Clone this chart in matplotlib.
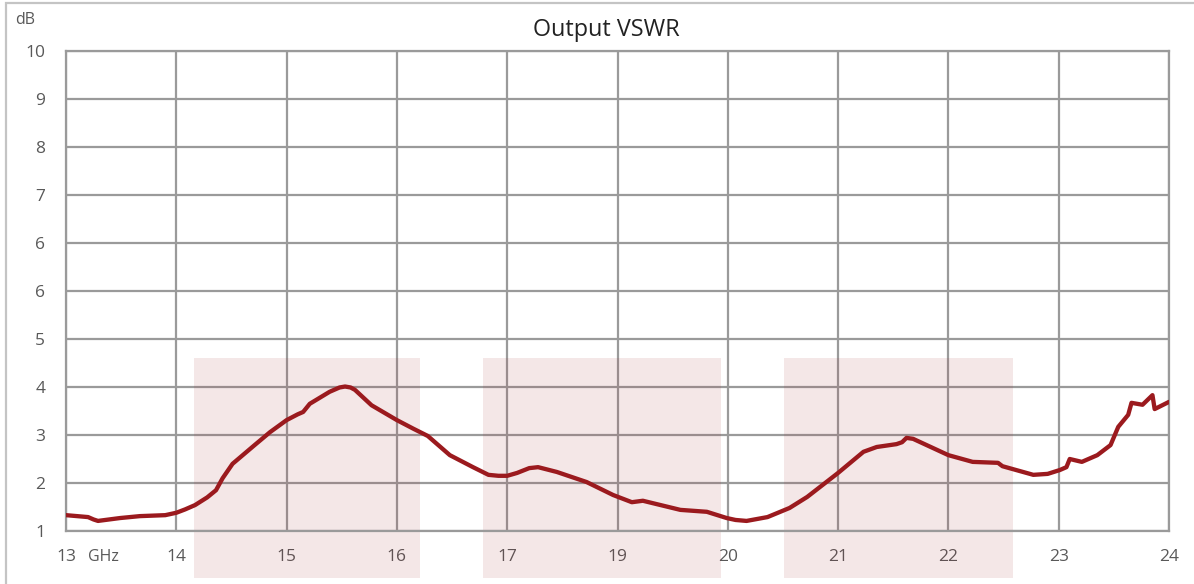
import matplotlib.pyplot as plt
from matplotlib.patches import Rectangle

# frequency axis is positional: 11 gridlines, label "18" is absent in the original
freq_labels = ['13', '14', '15', '16', '17', '19', '20', '21', '22', '23', '24']
db_labels = ['1', '2', '3', '4', '5', '6', '6', '7', '8', '9', '10']

# curve (x = gridline position 0..10, y = dB scale)
pos = [0.00, 0.20, 0.25, 0.29, 0.49, 0.67, 0.90, 1.00, 1.08, 1.17, 1.28, 1.36,
       1.42, 1.51, 1.71, 1.85, 2.00, 2.10, 2.15, 2.21, 2.39, 2.48, 2.53, 2.58,
       2.62, 2.77, 3.00, 3.15, 3.28, 3.48, 3.69, 3.83, 3.92, 4.00, 4.09, 4.20,
       4.28, 4.45, 4.72, 4.96, 5.13, 5.23, 5.57, 5.81, 5.99, 6.07, 6.17, 6.36,
       6.56, 6.72, 7.00, 7.23, 7.35, 7.53, 7.58, 7.62, 7.68, 8.00, 8.22, 8.45,
       8.49, 8.77, 8.90, 9.01, 9.07, 9.10, 9.21, 9.35, 9.47, 9.54, 9.63, 9.66,
       9.76, 9.85, 9.87, 10.00]
vswr = [1.33, 1.29, 1.24, 1.21, 1.27, 1.31, 1.33, 1.38, 1.45, 1.54, 1.70, 1.85,
        2.10, 2.40, 2.79, 3.06, 3.31, 3.43, 3.48, 3.65, 3.90, 3.99, 4.01, 3.99,
        3.94, 3.62, 3.31, 3.13, 2.98, 2.58, 2.33, 2.17, 2.15, 2.15, 2.21, 2.31,
        2.33, 2.23, 2.02, 1.75, 1.60, 1.63, 1.44, 1.40, 1.27, 1.23, 1.21, 1.29,
        1.48, 1.71, 2.21, 2.65, 2.75, 2.81, 2.85, 2.94, 2.92, 2.58, 2.44, 2.42,
        2.35, 2.17, 2.19, 2.27, 2.33, 2.50, 2.44, 2.58, 2.79, 3.17, 3.42, 3.67,
        3.63, 3.83, 3.54, 3.69]

# shaded bands (start, end) in gridline positions, and their top level
band_start = [1.16, 3.78, 6.51]
band_end = [3.21, 5.94, 8.59]
band_top = 4.6

plt.rcParams['font.family'] = ['Open Sans', 'DejaVu Sans']
grey = '#9a9a9a'
text_grey = '#595959'

fig = plt.figure(figsize=(11.94, 5.84), dpi=100)
ax = fig.add_axes([66 / 1194, 53 / 584, 1103 / 1194, 480 / 584])

ax.set_xlim(0, 10)
ax.set_ylim(1, 11)
ax.set_xticks(range(len(freq_labels)))
ax.set_xticklabels(freq_labels)
ax.set_yticks(range(1, len(db_labels) + 1))
ax.set_yticklabels(db_labels)
ax.tick_params(axis='x', length=0, pad=13, labelsize=12.5, labelcolor=text_grey)
ax.tick_params(axis='y', length=0, pad=15, labelsize=12.5, labelcolor=text_grey)
ax.set_axisbelow(True)
ax.grid(True, color=grey, linewidth=1.6)
for side in ax.spines.values():
    side.set_color(grey)
    side.set_linewidth(1.6)

for s, e in zip(band_start, band_end):
    ax.add_patch(Rectangle((s, 0.02), e - s, band_top - 0.02, facecolor='#a0282d',
                           alpha=0.11, edgecolor='none', clip_on=False, zorder=1))

ax.plot(pos, vswr, color='#9b1a1e', linewidth=3.1, solid_capstyle='round',
        solid_joinstyle='round', zorder=3)

fig.text(533 / 1194, 1 - 30 / 584, 'Output VSWR', ha='left', va='center',
         fontsize=16.8, color='#222222')
fig.text(15 / 1194, 1 - 20 / 584, 'dB', ha='left', va='center', fontsize=11.5,
         color=text_grey)
fig.text(88 / 1194, 1 - 557 / 584, 'GHz', ha='left', va='center', fontsize=11.5,
         color=text_grey)

# light frame around the whole picture
fig.patches.append(Rectangle((6 / 1194, -0.1), 1.2, 1.1 - 3 / 584, transform=fig.transFigure,
                             fill=False, edgecolor='#c4c4c4', linewidth=1.6))

fig.savefig('out.png', dpi=100)
